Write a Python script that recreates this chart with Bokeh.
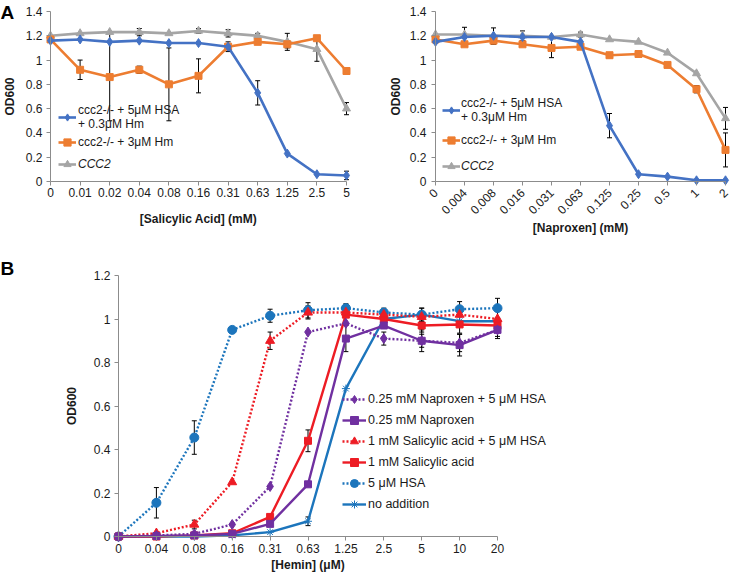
import math
from bokeh.plotting import figure
from bokeh.models import (Range1d, FixedTicker, Legend, LegendItem, Whisker, TeeHead,
                          ColumnDataSource, Label)
from bokeh.layouts import column, row
from bokeh.embed import file_html
from bokeh.resources import INLINE

FONT = "Liberation Sans"
AXIS_GRAY = "#8c8c8c"
TEXT = "#1a1a1a"

# ---------------- data ----------------
# Panel A (left): salicylic acid
sal_labels = ["0", "0.01", "0.02", "0.04", "0.08", "0.16", "0.31", "0.63", "1.25", "2.5", "5"]
sal_hsa = [1.16, 1.17, 1.15, 1.16, 1.14, 1.14, 1.11, 0.73, 0.23, 0.06, 0.05]
sal_hsa_err = [0, 0, 0, 0, 0, 0, 0, 0.10, 0, 0, 0.035]
sal_hm = [1.17, 0.92, 0.86, 0.92, 0.80, 0.87, 1.11, 1.15, 1.13, 1.18, 0.91]
sal_hm_err = [0, 0.08, 0.36, 0.03, 0.30, 0.14, 0.04, 0, 0.03, 0, 0]
sal_wt = [1.20, 1.22, 1.23, 1.23, 1.22, 1.24, 1.22, 1.20, 1.15, 1.09, 0.60]
sal_wt_err = [0, 0, 0, 0.03, 0, 0.02, 0.03, 0.02, 0.07, 0.10, 0.05]

# Panel A (right): naproxen
nap_labels = ["0", "0.004", "0.008", "0.016", "0.031", "0.063", "0.125", "0.25", "0.5", "1", "2"]
nap_hsa = [1.15, 1.19, 1.20, 1.19, 1.19, 1.15, 0.46, 0.06, 0.04, 0.01, 0.01]
nap_hsa_err = [0, 0, 0, 0, 0, 0, 0.10, 0, 0, 0, 0]
nap_hm = [1.17, 1.13, 1.16, 1.13, 1.10, 1.11, 1.04, 1.05, 0.96, 0.76, 0.26]
nap_hm_err = [0, 0, 0.03, 0, 0.08, 0, 0.02, 0, 0, 0.03, 0.14]
nap_wt = [1.21, 1.21, 1.20, 1.20, 1.19, 1.21, 1.17, 1.15, 1.06, 0.89, 0.52]
nap_wt_err = [0, 0.06, 0.065, 0.04, 0, 0.02, 0, 0, 0, 0, 0.09]

legend_a = ["ccc2-/- + 5\u03bcM HSA\n+ 0.3\u03bcM Hm", "ccc2-/- + 3\u03bcM Hm", "CCC2"]

# Panel B: hemin titration
hem_labels = ["0", "0.04", "0.08", "0.16", "0.31", "0.63", "1.25", "2.5", "5", "10", "20"]
b_nap_hsa = [0, 0.005, 0.012, 0.055, 0.23, 0.94, 0.98, 0.91, 0.90, 0.89, 0.95]
b_nap_hsa_err = [0, 0, 0, 0, 0, 0, 0, 0.03, 0.03, 0.04, 0.03]
b_nap = [0, 0.002, 0.005, 0.012, 0.058, 0.24, 0.91, 0.97, 0.90, 0.88, 0.95]
b_nap_err = [0, 0, 0, 0, 0, 0, 0.06, 0, 0.05, 0.05, 0.04]
b_sal_hsa = [0, 0.015, 0.055, 0.25, 0.90, 1.03, 1.03, 1.02, 1.01, 1.02, 1.00]
b_sal_hsa_err = [0, 0, 0.02, 0, 0.04, 0.03, 0, 0, 0, 0, 0]
b_sal = [0, 0, 0.005, 0.015, 0.09, 0.44, 1.02, 1.00, 0.97, 0.975, 0.97]
b_sal_err = [0, 0, 0, 0, 0.01, 0.05, 0, 0, 0.03, 0.04, 0.03]
b_hsa = [0, 0.155, 0.455, 0.95, 1.015, 1.04, 1.05, 1.03, 1.02, 1.045, 1.05]
b_hsa_err = [0, 0.07, 0.077, 0, 0.03, 0.035, 0.02, 0.02, 0.03, 0.035, 0.045]
b_none = [0, 0, 0, 0.005, 0.02, 0.07, 0.68, 1.00, 1.02, 0.99, 0.99]
b_none_err = [0, 0, 0, 0, 0, 0.02, 0, 0, 0.03, 0, 0]

legend_b = ["0.25 mM Naproxen + 5 \u03bcM HSA", "0.25 mM Naproxen",
            "1 mM Salicylic acid + 5 \u03bcM HSA", "1 mM Salicylic acid",
            "5 \u03bcM HSA", "no addition"]

y_ticks_a = [0, 0.2, 0.4, 0.6, 0.8, 1, 1.2, 1.4]
y_tick_labels_a = ["0", "0.2", "0.4", "0.6", "0.8", "1", "1.2", "1.4"]
y_ticks_b = [0, 0.2, 0.4, 0.6, 0.8, 1, 1.2]
y_tick_labels_b = ["0", "0.2", "0.4", "0.6", "0.8", "1", "1.2"]


def make_fig(width, height, xlabels, y_top, yticks, ylabels, xtitle, cx0, cx1, cy_top, cy0):
    """Frame covers the whole canvas; axes are drawn at data 0 (fixed_location)."""
    n = len(xlabels)
    ux = (cx1 - cx0) / (n - 1)
    x_start = -cx0 / ux
    uy = (cy0 - cy_top) / y_top
    y_end = y_top + cy_top / uy
    y_start = y_top - (height - cy_top) / uy
    p = figure(width=width, height=height, toolbar_location=None, output_backend="svg",
               x_range=Range1d(x_start, x_start + width / ux), y_range=Range1d(y_start, y_end),
               min_border_left=0, min_border_right=0, min_border_top=0, min_border_bottom=0)
    p.outline_line_color = None
    p.xgrid.visible = False
    p.ygrid.visible = False
    xa, ya = p.xaxis[0], p.yaxis[0]
    xa.ticker = FixedTicker(ticks=list(range(n)))
    xa.major_label_overrides = {i: lab for i, lab in enumerate(xlabels)}
    xa.bounds = (0, n - 1)
    ya.ticker = FixedTicker(ticks=yticks)
    ya.major_label_overrides = dict(zip(yticks, ylabels))
    ya.bounds = (0, y_top)
    xa.fixed_location = 0
    ya.fixed_location = 0
    for ax in (xa, ya):
        ax.axis_line_color = AXIS_GRAY
        ax.major_tick_line_color = AXIS_GRAY
        ax.minor_tick_line_color = None
        ax.major_tick_out = 4
        ax.major_tick_in = 0
        ax.major_label_text_font = FONT
        ax.major_label_text_font_size = "12px"
        ax.major_label_text_color = TEXT
        ax.axis_label_text_font = FONT
        ax.axis_label_text_font_size = "12px"
        ax.axis_label_text_font_style = "bold"
        ax.axis_label_text_color = TEXT
    xa.axis_label = xtitle
    ya.axis_label = "OD600"
    return p


def add_err(p, ys, errs):
    xs = [i for i, e in enumerate(errs) if e > 0]
    up = [ys[i] + errs[i] for i in xs]
    lo = [ys[i] - errs[i] for i in xs]
    src = ColumnDataSource(dict(x=xs, upper=up, lower=lo))
    w = Whisker(base="x", upper="upper", lower="lower", source=src,
                line_color="black", line_width=1,
                upper_head=TeeHead(size=5, line_color="black", line_width=1),
                lower_head=TeeHead(size=5, line_color="black", line_width=1))
    p.add_layout(w)


def add_series(p, ys, errs, color, marker, size, dash="solid", width=2.6):
    xs = list(range(len(ys)))
    add_err(p, ys, errs)
    r1 = p.line(xs, ys, line_color=color, line_width=width, line_dash=dash)
    r2 = p.scatter(xs, ys, marker=marker, size=size, fill_color=color, line_color=color)
    return [r1, r2]


def make_legend(items, loc, spacing, glyph_w, standoff, size, style="normal", label_h=20):
    return Legend(items=items, location=loc, padding=0, margin=0, spacing=spacing,
                  glyph_width=glyph_w, glyph_height=20, label_height=label_h,
                  label_standoff=standoff, label_text_font=FONT, label_text_font_size=size,
                  label_text_font_style=style, label_text_color=TEXT,
                  label_text_line_height=1.0,
                  background_fill_alpha=0, border_line_color=None)


def panel_letter(p, text, y):
    p.add_layout(Label(x=0, y=y, x_units="screen", y_units="screen", text=text,
                       text_font=FONT, text_font_size="19px", text_font_style="bold",
                       text_baseline="top", text_align="left", text_color="black"))


BLUE_A, ORANGE_A, GRAY_A = "#4472C4", "#ED7D31", "#A5A5A5"
HA = 250

# ---------------- Panel A left ----------------
pa1 = make_fig(380, HA, sal_labels, 1.4, y_ticks_a, y_tick_labels_a,
               "[Salicylic Acid] (mM)", cx0=50, cx1=346, cy_top=11, cy0=181)
pa1.xaxis[0].major_label_standoff = 2
pa1.xaxis[0].axis_label_standoff = 12
pa1.yaxis[0].major_label_standoff = 4
pa1.yaxis[0].axis_label_standoff = 6
r_wt = add_series(pa1, sal_wt, sal_wt_err, GRAY_A, "triangle", 8)
r_hm = add_series(pa1, sal_hm, sal_hm_err, ORANGE_A, "square", 7)
r_hsa = add_series(pa1, sal_hsa, sal_hsa_err, BLUE_A, "diamond", 9)
pa1.add_layout(make_legend([LegendItem(label=legend_a[0], renderers=r_hsa)],
                           (58, 119), 0, 18, 2, "12px", label_h=12))
pa1.add_layout(make_legend([LegendItem(label=legend_a[1], renderers=r_hm)],
                           (58, 98), 0, 18, 2, "12px", label_h=12))
pa1.add_layout(make_legend([LegendItem(label=legend_a[2], renderers=r_wt)],
                           (58, 76), 0, 18, 2, "12px", style="italic", label_h=12))
panel_letter(pa1, "A", HA - 1)

# ---------------- Panel A right ----------------
pa2 = make_fig(352, HA, nap_labels, 1.4, y_ticks_a, y_tick_labels_a,
               "[Naproxen] (mM)", cx0=55, cx1=345, cy_top=11, cy0=181)
pa2.xaxis[0].major_label_orientation = math.pi / 4
pa2.xaxis[0].major_label_standoff = 5
pa2.xaxis[0].axis_label_standoff = 0
pa2.yaxis[0].major_label_standoff = 5
pa2.yaxis[0].axis_label_standoff = 4
q_wt = add_series(pa2, nap_wt, nap_wt_err, GRAY_A, "triangle", 8)
q_hm = add_series(pa2, nap_hm, nap_hm_err, ORANGE_A, "square", 7)
q_hsa = add_series(pa2, nap_hsa, nap_hsa_err, BLUE_A, "diamond", 9)
pa2.add_layout(make_legend([LegendItem(label=legend_a[0], renderers=q_hsa),
                            LegendItem(label=legend_a[1], renderers=q_hm)],
                           (62, 100), 6, 18, 1, "12px", label_h=12))
pa2.add_layout(make_legend([LegendItem(label=legend_a[2], renderers=q_wt)],
                           (62, 74), 0, 18, 1, "12px", style="italic", label_h=12))

# ---------------- Panel B ----------------
PURPLE, RED, BLUE_B = "#7030A0", "#ED1C24", "#1C75BC"
HB = 323
pb = make_fig(732, HB, hem_labels, 1.2, y_ticks_b, y_tick_labels_b,
              "[Hemin] (\u03bcM)", cx0=118, cx1=497, cy_top=25, cy0=286)
pb.xaxis[0].major_label_standoff = 3
pb.xaxis[0].axis_label_standoff = 2
pb.yaxis[0].major_label_standoff = 4
pb.yaxis[0].axis_label_standoff = 12
s_none = add_series(pb, b_none, b_none_err, BLUE_B, "asterisk", 8, width=2.4)
s_hsa = add_series(pb, b_hsa, b_hsa_err, BLUE_B, "circle", 9, dash="2 2", width=2.4)
s_sal = add_series(pb, b_sal, b_sal_err, RED, "square", 7, width=2.4)
s_salh = add_series(pb, b_sal_hsa, b_sal_hsa_err, RED, "triangle", 9, dash="2 2", width=2.4)
s_nap = add_series(pb, b_nap, b_nap_err, PURPLE, "square", 7, width=2.4)
s_naph = add_series(pb, b_nap_hsa, b_nap_hsa_err, PURPLE, "diamond", 10, dash="2 2", width=2.4)
legb = make_legend([LegendItem(label=legend_b[0], renderers=s_naph),
                    LegendItem(label=legend_b[1], renderers=s_nap),
                    LegendItem(label=legend_b[2], renderers=s_salh),
                    LegendItem(label=legend_b[3], renderers=s_sal),
                    LegendItem(label=legend_b[4], renderers=s_hsa),
                    LegendItem(label=legend_b[5], renderers=s_none)],
                   (342, 59), 1, 24, 2, "12.5px")
pb.add_layout(legb)
panel_letter(pb, "B", HB - 7)

layout = column(row(pa1, pa2), pb)
open("out.html", "w").write(file_html(layout, INLINE))
